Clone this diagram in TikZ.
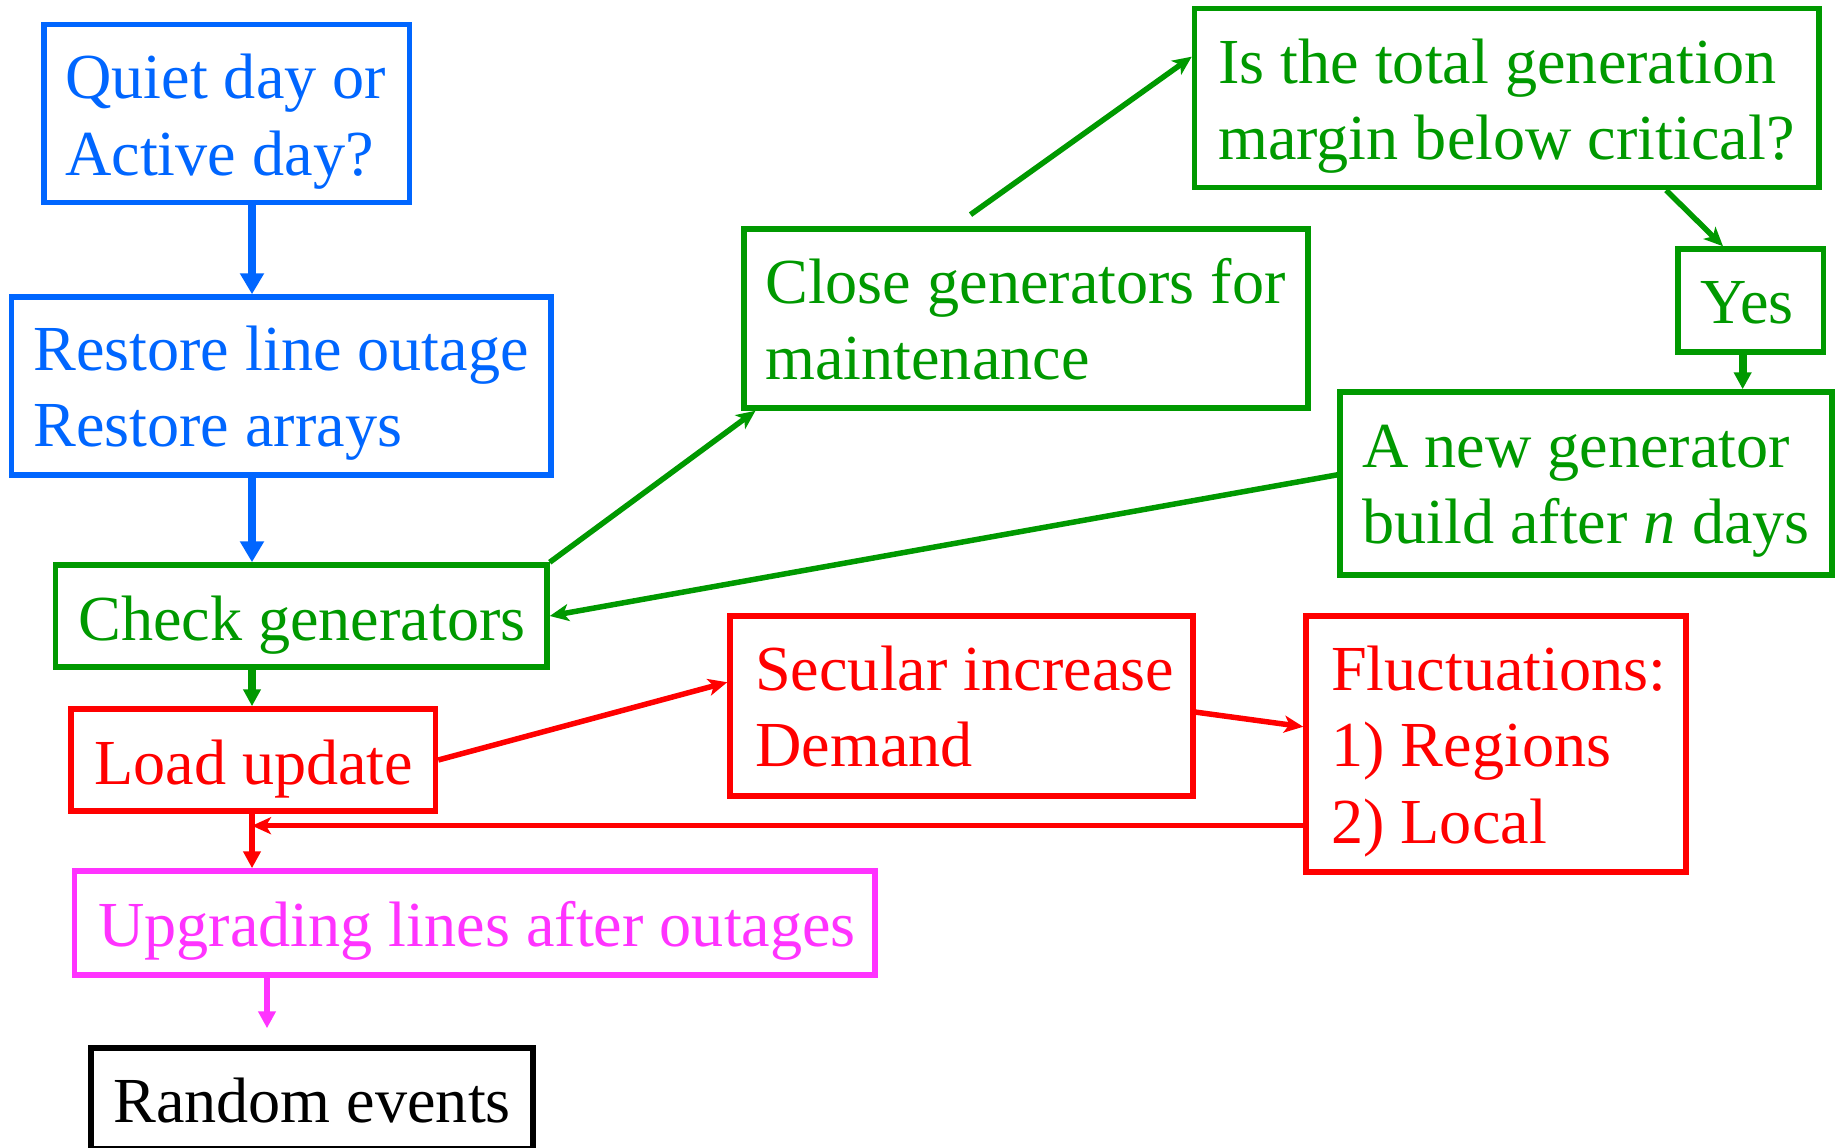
\documentclass[tikz,border=0pt]{standalone}
\usepackage{fontspec}
\setmainfont{Liberation Serif}
\usetikzlibrary{arrows.meta,calc}
\definecolor{cblue}{RGB}{0,102,255}
\definecolor{cgreen}{RGB}{0,153,0}
\definecolor{cred}{RGB}{255,0,0}
\definecolor{cmag}{RGB}{255,51,255}
\newcommand\mylines[1]{\begin{tabular}[t]{@{}l@{}}#1\end{tabular}}
\begin{document}
\begin{tikzpicture}[x=1pt,y=-1pt,
  box/.style={draw, line width=5.5pt, rectangle, inner sep=0pt},
  txt/.style={anchor=base west, inner sep=0pt, font=\fontsize{64.2}{76.5}\selectfont},
  vtri/.style={-{Triangle[length=21pt,width=23pt]}},
  stri/.style={-{Triangle[length=17pt,width=17pt]}},
  stl/.style={-{Stealth[length=19pt,width=17pt,inset=5pt]}}
]
\useasboundingbox (0,0) rectangle (1839,1148);
\fill[white] (0,0) rectangle (1839,1148);

% boxes
\node[box, cblue, minimum width=365.8pt, minimum height=178.2pt] (quiet) at (226.7,113.6) {};
\node[box, cblue, minimum width=539.5pt, minimum height=178pt] (restore) at (281.25,386) {};
\node[box, cgreen, minimum width=491.5pt, minimum height=102pt] (check) at (301.25,616) {};
\node[box, cred, minimum width=364.5pt, minimum height=102pt] (load) at (253.25,760) {};
\node[box, cmag, minimum width=800.4pt, minimum height=104pt] (upg) at (474.8,923) {};
\node[box, black, minimum width=442pt, minimum height=101pt] (rand) at (312,1098.5) {};
\node[box, cgreen, minimum width=564pt, minimum height=179pt] (close) at (1026,318.5) {};
\node[box, cgreen, minimum width=624.5pt, minimum height=179pt] (is) at (1506.75,98) {};
\node[box, cgreen, minimum width=145.6pt, minimum height=103pt] (yes) at (1750.8,300.5) {};
\node[box, cgreen, minimum width=492pt, minimum height=183pt] (new) at (1586,483.5) {};
\node[box, cred, minimum width=463pt, minimum height=180pt] (secular) at (961.5,706) {};
\node[box, cred, minimum width=380pt, minimum height=256pt] (fluct) at (1496,744) {};

% texts
\node[txt, text=cblue] (quiett) at (65,99) {\mylines{Quiet day or\\Active day?}};
\node[txt, text=cblue] (restoret) at (33,370) {\mylines{Restore line outage\\Restore arrays}};
\node[txt, text=cgreen] (checkt) at (78,640) {Check generators};
\node[txt, text=cred] (loadt) at (94,784) {Load update};
\node[txt, text=cmag] (upgt) at (98,946) {Upgrading lines after outages};
\node[txt, text=black] (randt) at (113,1122) {Random events};
\node[txt, text=cgreen] (closet) at (765,303) {\mylines{Close generators for\\maintenance}};
\node[txt, text=cgreen] (ist) at (1218,83) {\mylines{Is the total generation\\margin below critical?}};
\node[txt, text=cgreen] (yest) at (1700,323) {Yes};
\node[txt, text=cgreen] (newt) at (1362,467) {\mylines{A new generator\\build after \textit{n} days}};
\node[txt, text=cred] (seculart) at (755,690) {\mylines{Secular increase\\Demand}};
\node[txt, text=cred] (fluctt) at (1331,690) {\mylines{Fluctuations:\\1) Regions\\2) Local}};

% connectors
\coordinate (col) at (252,0);
\draw[vtri, cblue, line width=8pt] (col |- quiet.south) -- (col |- restore.north);
\draw[vtri, cblue, line width=8pt] (col |- restore.south) -- (col |- check.north);
\draw[stri, cgreen, line width=8pt] (col |- check.south) -- (col |- load.north);
\draw[stri, cred, line width=6pt] (col |- load.south) -- (col |- upg.north);

\coordinate (f1) at ($(fluct.north west)!0.8125!(fluct.south west)$);
\draw[stl, cred, line width=5.5pt] (f1) -- (col |- f1);

\draw[stl, cred, line width=5.5pt] (load.east) -- ($(secular.north west)!0.372!(secular.south west)$);
\draw[stl, cred, line width=5.5pt] ($(secular.north east)!0.533!(secular.south east)$) -- ($(fluct.north west)!0.434!(fluct.south west)$);

\draw[stl, cgreen, line width=5.5pt] (check.north east) -- ($(close.south west)!0.025!(close.south east)$);
\draw[stl, cgreen, line width=5.5pt, shorten <=20pt] ($(close.north west)!0.374!(close.north east)$) -- ($(is.north west)!0.276!(is.south west)$);
\draw[stl, cgreen, line width=5.5pt] ($(is.south west)!0.753!(is.south east)$) -- ($(yes.north west)!0.316!(yes.north east)$);
\coordinate (ys) at ($(yes.south west)!0.446!(yes.south east)$);
\draw[stri, cgreen, line width=8pt] (ys) -- (ys |- new.north);
\draw[stl, cgreen, line width=5.5pt] ($(new.north west)!0.454!(new.south west)$) -- (check.east);

\coordinate (uc) at (267,0);
\draw[stri, cmag, line width=6pt, shorten >=17pt] (uc |- upg.south) -- (uc |- rand.north);
\end{tikzpicture}
\end{document}
